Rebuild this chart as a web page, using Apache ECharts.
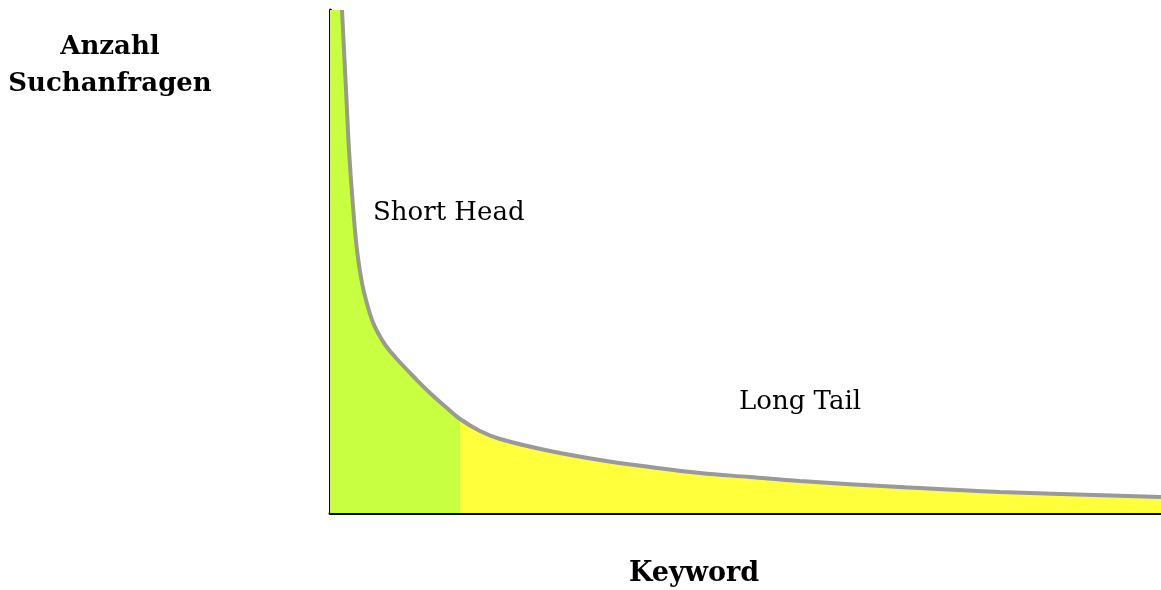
<!DOCTYPE html>
<html>
<head>
<meta charset="utf-8">
<script src="https://cdn.jsdelivr.net/npm/echarts@6/dist/echarts.min.js"></script>
<style>html,body{margin:0;padding:0;background:#fff}#c{width:1161px;height:590px}</style>
</head>
<body>
<div id="c"></div>
<script>
// Curve: [keyword rank, search volume]
const curveX = [12, 14, 16.5, 19, 22.5, 27, 32, 36, 42, 48, 56, 66, 83, 100, 117, 130, 150, 170, 220, 270, 320, 370, 420, 470, 570, 670, 831];
const curveY = [503, 463, 413, 363, 313, 263, 230, 213, 193, 180, 167, 155, 137, 120, 105, 94, 82, 74, 62, 53, 46, 40, 36, 32, 26, 21, 16];
const splitX = 130; // boundary short head / long tail
const xMax = 831, yMax = 503;
const yTitle = 'Anzahl\nSuchanfragen';
const xTitle = 'Keyword';
const headLabel = 'Short Head';
const tailLabel = 'Long Tail';

const curve = curveX.map((x, i) => [x, curveY[i]]);
const areaData = [[0, curveY[0]]].concat(curve);
const off = splitX / xMax;
const headColor = '#c8ff40', tailColor = '#ffff3c';

const chart = echarts.init(document.getElementById('c'), null, {renderer: 'canvas'});
const serif = 'DejaVu Serif';
chart.setOption({
  animation: false,
  backgroundColor: '#fff',
  grid: {left: 330, right: 0, top: 10, bottom: 77, outerBoundsMode: 'none', containLabel: false},
  xAxis: {
    type: 'value', min: 0, max: xMax,
    axisLine: {show: true, onZero: false, lineStyle: {color: '#000', width: 3}},
    axisTick: {show: false}, axisLabel: {show: false}, splitLine: {show: false}
  },
  yAxis: {
    type: 'value', min: 0, max: yMax,
    axisLine: {show: true, onZero: false, lineStyle: {color: '#000', width: 3}},
    axisTick: {show: false}, axisLabel: {show: false}, splitLine: {show: false}
  },
  series: [
    {type: 'line', data: areaData, smooth: 0.4, symbol: 'none',
     lineStyle: {width: 0}, z: 1,
     areaStyle: {opacity: 1, color: new echarts.graphic.LinearGradient(0, 0, 1, 0, [
       {offset: 0, color: headColor}, {offset: off, color: headColor},
       {offset: off, color: tailColor}, {offset: 1, color: tailColor}])}},
    {type: 'line', data: curve, smooth: 0.4, symbol: 'none',
     lineStyle: {width: 4, color: '#999999'}, z: 2}
  ],
  graphic: [
    {type: 'text', x: 110, y: 29, silent: true,
     style: {text: yTitle, fontFamily: serif, fontWeight: 'bold', fontSize: 26, fill: '#000',
             align: 'center', lineHeight: 37}},
    {type: 'text', x: 694, y: 560, silent: true,
     style: {text: xTitle, fontFamily: serif, fontWeight: 'bold', fontSize: 27, fill: '#000',
             align: 'center'}},
    {type: 'text', x: 373, y: 200, silent: true,
     style: {text: headLabel, fontFamily: serif, fontSize: 26, fill: '#000'}},
    {type: 'text', x: 739, y: 389, silent: true,
     style: {text: tailLabel, fontFamily: serif, fontSize: 26, fill: '#000'}}
  ]
});
</script>
</body>
</html>
